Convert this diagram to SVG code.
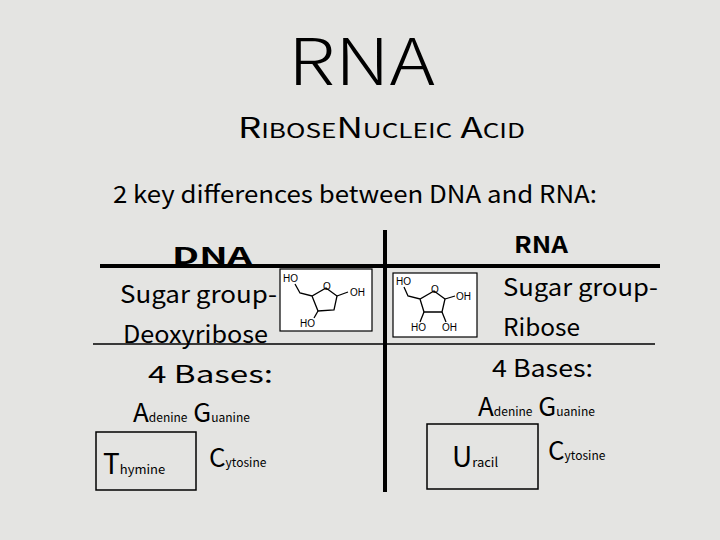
<svg xmlns="http://www.w3.org/2000/svg" width="720" height="540" viewBox="0 0 720 540">
<style>
.t{font-family:"Noto Sans CJK JP","Liberation Sans",sans-serif;fill:#000}
.m{font-family:"Liberation Sans",sans-serif;font-size:10px;fill:#000}
.b{fill:none;stroke:#000;stroke-width:1.3}
</style>
<rect width="720" height="540" fill="#e4e4e2"/>
<text class="t" x="288" y="85" font-size="64" textLength="147" lengthAdjust="spacingAndGlyphs" font-weight="300">RNA</text>
<text class="t" x="238" y="138" font-size="28" textLength="287" lengthAdjust="spacingAndGlyphs">R<tspan font-size="20">IBOSE</tspan>N<tspan font-size="20">UCLEIC</tspan> A<tspan font-size="20">CID</tspan></text>
<text class="t" x="113" y="203" font-size="24" textLength="484" lengthAdjust="spacingAndGlyphs">2 key differences between DNA and RNA:</text>
<g id="lines">
<line x1="100" y1="266" x2="660" y2="266" stroke="#000" stroke-width="4"/>
<line x1="385" y1="230" x2="385" y2="492" stroke="#000" stroke-width="4"/>
<line x1="93" y1="344" x2="655" y2="344" stroke="#000" stroke-width="1.5"/>
</g>
<g id="dna">
<text class="t" x="172" y="264" font-size="23" font-weight="bold" textLength="80" lengthAdjust="spacingAndGlyphs">DNA</text>
<text class="t" x="120" y="303" font-size="24" textLength="157" lengthAdjust="spacingAndGlyphs">Sugar group-</text>
<text class="t" x="123" y="343" font-size="24" textLength="145" lengthAdjust="spacingAndGlyphs">Deoxyribose</text>
<text class="t" x="148" y="383" font-size="24" textLength="125" lengthAdjust="spacingAndGlyphs">4 Bases:</text>
<text class="t" x="133" y="422" font-size="26">A<tspan font-size="12">denine</tspan> G<tspan font-size="12">uanine</tspan></text>
<rect x="96" y="432" width="100" height="58" fill="none" stroke="#000" stroke-width="1.5"/>
<text class="t" x="103" y="474" font-size="28">T<tspan font-size="13">hymine</tspan></text>
<text class="t" x="209" y="467" font-size="26">C<tspan font-size="12">ytosine</tspan></text>
</g>
<g id="rna">
<text class="t" x="514" y="253" font-size="23" font-weight="bold" textLength="54" lengthAdjust="spacingAndGlyphs">RNA</text>
<text class="t" x="503" y="296" font-size="24" textLength="155" lengthAdjust="spacingAndGlyphs">Sugar group-</text>
<text class="t" x="503" y="336" font-size="24" textLength="77" lengthAdjust="spacingAndGlyphs">Ribose</text>
<text class="t" x="492" y="377" font-size="24" textLength="101" lengthAdjust="spacingAndGlyphs">4 Bases:</text>
<text class="t" x="478" y="416" font-size="26">A<tspan font-size="12">denine</tspan> G<tspan font-size="12">uanine</tspan></text>
<rect x="427" y="424" width="111" height="65" fill="none" stroke="#000" stroke-width="1.5"/>
<text class="t" x="452" y="467" font-size="28">U<tspan font-size="13">racil</tspan></text>
<text class="t" x="548" y="460" font-size="26">C<tspan font-size="12">ytosine</tspan></text>
</g>
<g id="deoxyribose">
<rect x="280" y="269" width="92" height="62" fill="#fff" stroke="#000" stroke-width="1.2"/>
<text class="m" x="283" y="282">HO</text>
<path class="b" d="M295 284 L300 293 L312 296 L326 288 L337 296 L334 310 L318 311 L312 296"/>
<path class="b" d="M337 296 L348 292"/>
<text class="m" x="350" y="296">OH</text>
<text class="m" x="323" y="290" font-size="9">O</text>
<path class="b" d="M318 311 L314 318"/>
<text class="m" x="300" y="327">HO</text>
</g>
<g id="ribose">
<rect x="393" y="273" width="84" height="64" fill="#fff" stroke="#000" stroke-width="1.2"/>
<text class="m" x="396" y="285" font-size="9">HO</text>
<path class="b" d="M404 287 L408 296 L420 299 L434 291 L445 299 L442 312 L424 312 L420 299"/>
<path class="b" d="M445 299 L455 296"/>
<text class="m" x="456" y="300" font-size="9">OH</text>
<text class="m" x="431" y="293" font-size="9">O</text>
<path class="b" d="M424 312 L420 322 M442 312 L446 322"/>
<text class="m" x="411" y="331" font-size="9">HO</text>
<text class="m" x="442" y="331" font-size="9">OH</text>
</g>
</svg>
